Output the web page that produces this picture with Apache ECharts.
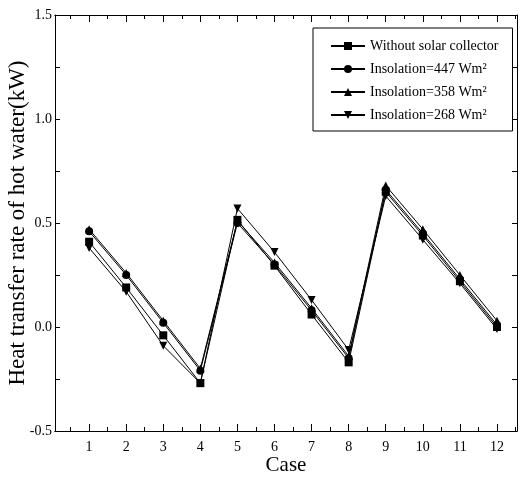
<!DOCTYPE html>
<html>
<head>
<meta charset="utf-8">
<script src="https://cdn.jsdelivr.net/npm/echarts@6/dist/echarts.min.js"></script>
<style>
  html, body { margin: 0; padding: 0; background: #fff; }
  #chart { width: 528px; height: 481px; }
</style>
</head>
<body>
<div id="chart"></div>
<script>
// 数据
const cases = [1, 2, 3, 4, 5, 6, 7, 8, 9, 10, 11, 12];
const withoutCollector = [0.41, 0.19, -0.04, -0.27, 0.515, 0.295, 0.06, -0.17, 0.65, 0.44, 0.22, 0.00];
const insolation447 = [0.46, 0.25, 0.02, -0.21, 0.50, 0.30, 0.08, -0.15, 0.66, 0.45, 0.23, 0.01];
const insolation358 = [0.47, 0.26, 0.03, -0.20, 0.51, 0.31, 0.09, -0.14, 0.68, 0.47, 0.25, 0.03];
const insolation268 = [0.38, 0.17, -0.09, -0.27, 0.57, 0.36, 0.13, -0.11, 0.63, 0.42, 0.21, -0.01];
const majorX = [1, 2, 3, 4, 5, 6, 7, 8, 9, 10, 11, 12];
const minorX = [0.5, 1.5, 2.5, 3.5, 4.5, 5.5, 6.5, 7.5, 8.5, 9.5, 10.5, 11.5, 12.5];
const names = ['Without solar collector', 'Insolation=447 Wm²', 'Insolation=358 Wm²', 'Insolation=268 Wm²'];

const font = '"Liberation Serif", "Times New Roman", serif';
const chart = echarts.init(document.getElementById('chart'));

const xBase = {
  type: 'value',
  min: 0.08,
  max: 12.54,
  splitLine: { show: false },
  axisLine: { show: true, onZero: false, lineStyle: { color: '#000', width: 1 } }
};

function makeSeries(name, values, symbol) {
  return {
    name: name,
    type: 'line',
    data: cases.map((c, i) => [c, values[i]]),
    symbol: symbol,
    symbolSize: 8,
    showSymbol: true,
    lineStyle: { color: '#000', width: 1 },
    itemStyle: { color: '#000' },
    emphasis: { disabled: true },
    animation: false
  };
}

const option = {
  backgroundColor: '#fff',
  grid: { left: 55, right: 11, top: 15, bottom: 50, outerBoundsMode: 'none', containLabel: false },
  legend: {
    left: 313,
    top: 28,
    orient: 'vertical',
    padding: [11, 14, 9, 17],
    itemGap: 9,
    itemWidth: 34,
    itemHeight: 10,
    borderColor: '#000',
    borderWidth: 1,
    textStyle: { fontFamily: font, fontSize: 14, color: '#000' },
    data: names
  },
  xAxis: [
    Object.assign({}, xBase, {
      position: 'bottom',
      name: 'Case',
      nameLocation: 'middle',
      nameGap: 24,
      nameMoveOverlap: false,
      nameTextStyle: { fontFamily: font, fontSize: 21, color: '#000' },
      axisTick: { show: true, inside: true, length: 7, customValues: majorX, lineStyle: { color: '#000' } },
      axisLabel: { customValues: majorX, fontFamily: font, fontSize: 14, color: '#000', margin: 9 }
    }),
    Object.assign({}, xBase, {
      position: 'bottom',
      axisTick: { show: true, inside: true, length: 4, customValues: minorX, lineStyle: { color: '#000' } },
      axisLabel: { show: false }
    }),
    Object.assign({}, xBase, {
      position: 'top',
      axisTick: { show: true, inside: true, length: 7, customValues: majorX, lineStyle: { color: '#000' } },
      axisLabel: { show: false }
    }),
    Object.assign({}, xBase, {
      position: 'top',
      axisTick: { show: true, inside: true, length: 4, customValues: minorX, lineStyle: { color: '#000' } },
      axisLabel: { show: false }
    })
  ],
  yAxis: [
    {
      type: 'value',
      position: 'left',
      min: -0.5,
      max: 1.5,
      interval: 0.5,
      name: 'Heat transfer rate of hot water(kW)',
      nameLocation: 'middle',
      nameGap: 26,
      nameMoveOverlap: false,
      nameTextStyle: { fontFamily: font, fontSize: 23, color: '#000' },
      splitLine: { show: false },
      axisLine: { show: true, onZero: false, lineStyle: { color: '#000', width: 1 } },
      axisTick: { show: true, inside: true, length: 5, lineStyle: { color: '#000' } },
      minorTick: { show: true, splitNumber: 2, length: 5, lineStyle: { color: '#000' } },
      axisLabel: {
        fontFamily: font, fontSize: 14, color: '#000', margin: 3,
        formatter: v => v.toFixed(1)
      }
    },
    {
      type: 'value',
      position: 'right',
      min: -0.5,
      max: 1.5,
      interval: 0.5,
      splitLine: { show: false },
      axisLine: { show: true, onZero: false, lineStyle: { color: '#000', width: 1 } },
      axisTick: { show: true, inside: true, length: 5, lineStyle: { color: '#000' } },
      minorTick: { show: true, splitNumber: 2, length: 5, lineStyle: { color: '#000' } },
      axisLabel: { show: false }
    }
  ],
  series: [
    makeSeries(names[0], withoutCollector, 'rect'),
    makeSeries(names[1], insolation447, 'circle'),
    makeSeries(names[2], insolation358, 'triangle'),
    makeSeries(names[3], insolation268, 'path://M0,0 L10,0 L5,10 Z')
  ]
};

chart.setOption(option);
</script>
</body>
</html>
